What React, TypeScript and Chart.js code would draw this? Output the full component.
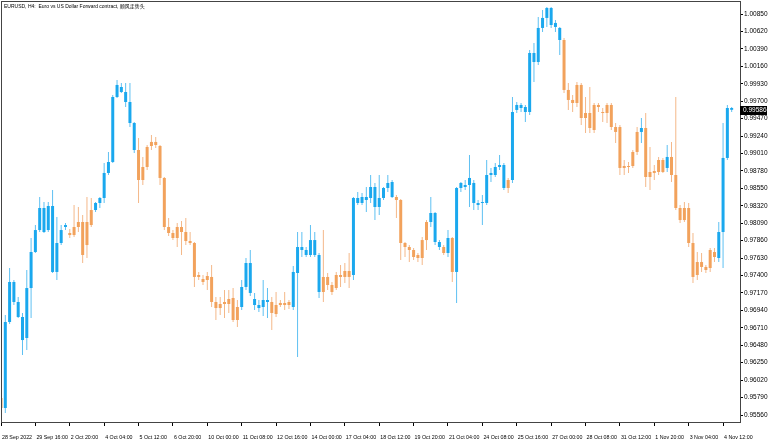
import { useEffect, useRef } from 'react';
import { Chart, registerables } from 'chart.js';

Chart.register(...registerables);

const chartTitle = 'EURUSD, H4:  Euro vs US Dollar Forward contract, 顺风走势头';

const opens = [
  0.95784, 0.95652, 0.96787, 0.97315, 0.97051, 0.96853, 0.96576, 0.97235, 0.97710, 0.98000,
  0.98291, 0.98000, 0.98317, 0.97447, 0.97829, 0.98040, 0.97961, 0.97934, 0.98040, 0.98106,
  0.97802, 0.98066, 0.98264, 0.98357, 0.98423, 0.98753, 0.98898, 0.99755, 0.99887, 0.99821,
  0.99689, 0.99412, 0.99056, 0.98660, 0.98832, 0.99109, 0.99162, 0.99109, 0.98687, 0.98040,
  0.97961, 0.97895, 0.98040, 0.97974, 0.97855, 0.97829, 0.97381, 0.97354, 0.97341, 0.97381,
  0.97051, 0.96971, 0.97024, 0.97024, 0.97104, 0.96813, 0.96985, 0.97249, 0.97565, 0.97090,
  0.97011, 0.96985, 0.97077, 0.97051, 0.96892, 0.97011, 0.97038, 0.97011, 0.96985, 0.97433,
  0.97776, 0.97737, 0.97671, 0.97868, 0.97671, 0.97183, 0.97381, 0.97275, 0.97235, 0.97407,
  0.97381, 0.97460, 0.97407, 0.98423, 0.98357, 0.98436, 0.98423, 0.98568, 0.98304, 0.98423,
  0.98555, 0.98634, 0.98436, 0.98396, 0.97829, 0.97776, 0.97737, 0.97671, 0.97631, 0.97868,
  0.98106, 0.98225, 0.97842, 0.97776, 0.97697, 0.97895, 0.97447, 0.98555, 0.98594, 0.98594,
  0.98621, 0.98357, 0.98357, 0.98357, 0.98726, 0.98726, 0.98832, 0.98858, 0.98555, 0.98660,
  0.99584, 0.99650, 0.99623, 0.99557, 1.00336, 1.00217, 1.00666, 1.00798, 1.00929, 1.00732,
  1.00666, 1.00507, 0.99848, 0.99716, 0.99676, 0.99914, 0.99478, 0.99544, 0.99320, 0.99650,
  0.99557, 0.99544, 0.99650, 0.99359, 0.99359, 0.98819, 0.98845, 0.98845, 0.99030, 0.99294,
  0.99346, 0.98700, 0.98779, 0.98766, 0.98924, 0.98819, 0.98964, 0.98726, 0.98291, 0.98132,
  0.98291, 0.97829, 0.97407, 0.97578, 0.97513, 0.97499, 0.97710, 0.97631, 0.97974, 0.98951,
  0.99610,
];

const highs = [
  0.95810, 0.96879, 0.97499, 0.97341, 0.97117, 0.96906, 0.97473, 0.97895, 0.98066, 0.98436,
  0.98370, 0.98370, 0.98528, 0.98172, 0.98066, 0.98093, 0.98013, 0.98330, 0.98304, 0.98198,
  0.98436, 0.98423, 0.98370, 0.98436, 0.98885, 0.99030, 0.99782, 0.99980, 0.99940, 0.99940,
  0.99940, 0.99425, 0.99214, 0.98964, 0.99122, 0.99254, 0.99228, 0.99122, 0.98700, 0.98159,
  0.98000, 0.98093, 0.98119, 0.98159, 0.97974, 0.97842, 0.97447, 0.97407, 0.97447, 0.97539,
  0.97117, 0.97117, 0.97209, 0.97209, 0.97235, 0.97077, 0.97341, 0.97631, 0.97737, 0.97170,
  0.97077, 0.97341, 0.97235, 0.97117, 0.97183, 0.97077, 0.97183, 0.97077, 0.97526, 0.97974,
  0.97974, 0.97776, 0.98066, 0.97974, 0.97697, 0.98000, 0.97433, 0.97315, 0.97447, 0.97539,
  0.97565, 0.97697, 0.98436, 0.98502, 0.98489, 0.98568, 0.98726, 0.98621, 0.98726, 0.98568,
  0.98726, 0.98660, 0.98462, 0.98410, 0.97842, 0.97802, 0.97763, 0.97697, 0.97908, 0.98132,
  0.98436, 0.98238, 0.97868, 0.97802, 0.98000, 0.97908, 0.98568, 0.98634, 0.98660, 0.98990,
  0.98660, 0.98396, 0.98462, 0.98924, 0.98819, 0.98885, 0.98990, 0.98885, 0.98687, 0.99755,
  0.99689, 0.99676, 0.99650, 1.00375, 1.00468, 1.00811, 1.00903, 1.00943, 1.00943, 1.00771,
  1.00679, 1.00534, 0.99940, 0.99782, 0.99953, 0.99940, 0.99755, 0.99887, 0.99676, 0.99676,
  0.99610, 0.99676, 0.99676, 0.99412, 0.99386, 0.98924, 0.98898, 0.99056, 0.99359, 0.99478,
  0.99544, 0.99096, 0.98858, 0.98964, 0.98951, 0.99122, 0.99162, 0.99755, 0.98330, 0.98370,
  0.98357, 0.97961, 0.97710, 0.97697, 0.97539, 0.97763, 0.97763, 0.98106, 0.99412, 0.99650,
  0.99623,
];

const lows = [
  0.95626, 0.95586, 0.96760, 0.97011, 0.96840, 0.96351, 0.96417, 0.96840, 0.97697, 0.97974,
  0.97961, 0.97974, 0.97433, 0.97341, 0.97802, 0.98000, 0.97895, 0.97908, 0.97974, 0.97565,
  0.97631, 0.98040, 0.98238, 0.98291, 0.98357, 0.98726, 0.98885, 0.99742, 0.99808, 0.99623,
  0.99359, 0.99017, 0.98357, 0.98594, 0.98792, 0.99056, 0.99082, 0.98594, 0.98000, 0.97921,
  0.97868, 0.97776, 0.97671, 0.97802, 0.97802, 0.97249, 0.97341, 0.97275, 0.97209, 0.96985,
  0.96813, 0.96879, 0.96840, 0.96906, 0.96787, 0.96721, 0.96945, 0.97209, 0.97130, 0.96945,
  0.96919, 0.96866, 0.96840, 0.96681, 0.96853, 0.96985, 0.96945, 0.96958, 0.96945, 0.96325,
  0.97644, 0.97644, 0.97644, 0.97644, 0.97104, 0.97051, 0.97209, 0.97143, 0.97209, 0.97249,
  0.97301, 0.97235, 0.97341, 0.98330, 0.98330, 0.98238, 0.98357, 0.98132, 0.98198, 0.98396,
  0.98502, 0.98423, 0.98159, 0.97605, 0.97644, 0.97578, 0.97605, 0.97578, 0.97539, 0.97737,
  0.98040, 0.97802, 0.97737, 0.97671, 0.97644, 0.97315, 0.97038, 0.98502, 0.98528, 0.98304,
  0.98264, 0.98264, 0.98066, 0.98330, 0.98634, 0.98700, 0.98792, 0.98528, 0.98489, 0.98621,
  0.99544, 0.99557, 0.99425, 0.99518, 0.99953, 1.00177, 1.00613, 1.00679, 1.00666, 1.00613,
  1.00309, 0.99808, 0.99584, 0.99557, 0.99623, 0.99386, 0.99280, 0.99280, 0.99280, 0.99557,
  0.99425, 0.99412, 0.99320, 0.99148, 0.98726, 0.98726, 0.98753, 0.98819, 0.98990, 0.99148,
  0.98568, 0.98528, 0.98660, 0.98726, 0.98753, 0.98766, 0.98634, 0.98264, 0.98093, 0.98106,
  0.97776, 0.97301, 0.97341, 0.97447, 0.97433, 0.97447, 0.97578, 0.97578, 0.97499, 0.98924,
  0.99557,
];

const closes = [
  0.95652, 0.96787, 0.97315, 0.97051, 0.96853, 0.96549, 0.97235, 0.97710, 0.98000, 0.98291,
  0.97974, 0.98317, 0.97447, 0.97829, 0.98000, 0.98066, 0.97934, 0.98040, 0.98106, 0.97671,
  0.98106, 0.98264, 0.98357, 0.98423, 0.98753, 0.98898, 0.99755, 0.99914, 0.99821, 0.99689,
  0.99412, 0.99056, 0.98660, 0.98832, 0.99096, 0.99162, 0.99122, 0.98687, 0.98040, 0.97961,
  0.97895, 0.98040, 0.97974, 0.97855, 0.97829, 0.97381, 0.97407, 0.97315, 0.97394, 0.97051,
  0.96971, 0.97024, 0.97051, 0.97090, 0.96813, 0.96985, 0.97249, 0.97565, 0.97170, 0.97011,
  0.96971, 0.97077, 0.97051, 0.96906, 0.97011, 0.97038, 0.97011, 0.97051, 0.97447, 0.97776,
  0.97737, 0.97671, 0.97868, 0.97671, 0.97183, 0.97381, 0.97275, 0.97183, 0.97407, 0.97381,
  0.97460, 0.97381, 0.98423, 0.98357, 0.98436, 0.98396, 0.98568, 0.98304, 0.98423, 0.98555,
  0.98621, 0.98436, 0.98396, 0.97829, 0.97776, 0.97737, 0.97644, 0.97631, 0.97868, 0.98106,
  0.98225, 0.97842, 0.97776, 0.97697, 0.97895, 0.97447, 0.98555, 0.98621, 0.98568, 0.98687,
  0.98357, 0.98330, 0.98370, 0.98726, 0.98753, 0.98832, 0.98858, 0.98555, 0.98660, 0.99557,
  0.99650, 0.99610, 0.99557, 1.00336, 1.00217, 1.00666, 1.00798, 1.00929, 1.00705, 1.00679,
  1.00507, 0.99848, 0.99716, 0.99676, 0.99914, 0.99478, 0.99544, 0.99346, 0.99650, 0.99623,
  0.99544, 0.99650, 0.99359, 0.99294, 0.98819, 0.98845, 0.98832, 0.99030, 0.99294, 0.99346,
  0.98700, 0.98766, 0.98753, 0.98924, 0.98766, 0.98964, 0.98726, 0.98291, 0.98132, 0.98291,
  0.97829, 0.97381, 0.97578, 0.97513, 0.97473, 0.97737, 0.97644, 0.97974, 0.98951, 0.99610,
  0.99586,
];

// 1 = up-trend colour (blue), 0 = down-trend colour (orange)
const trend = [
  0, 1, 1, 1, 1, 1, 1, 1, 1, 1, 1, 1, 1, 1, 1, 1, 0, 0, 0, 0,
  0, 0, 1, 1, 1, 1, 1, 1, 1, 1, 1, 1, 0, 0, 0, 0, 0, 0, 0, 0,
  0, 0, 0, 0, 0, 0, 0, 0, 0, 0, 0, 0, 0, 0, 0, 0, 1, 1, 1, 1,
  1, 1, 1, 0, 0, 0, 0, 0, 1, 1, 1, 1, 1, 1, 1, 0, 0, 0, 0, 0,
  0, 0, 1, 1, 1, 1, 1, 1, 1, 1, 1, 1, 0, 0, 0, 0, 0, 0, 0, 0,
  1, 1, 1, 0, 1, 0, 1, 1, 1, 1, 1, 1, 1, 1, 1, 1, 1, 1, 0, 1,
  1, 1, 1, 1, 1, 1, 1, 1, 1, 1, 1, 0, 0, 0, 0, 0, 0, 0, 0, 0,
  0, 0, 0, 0, 0, 0, 0, 0, 0, 1, 0, 0, 0, 0, 0, 1, 0, 0, 0, 0,
  0, 0, 0, 0, 0, 0, 0, 1, 1, 1, 1,
];

const xTickLabels = [
  '28 Sep 2022', '29 Sep 16:00', '2 Oct 20:00', '4 Oct 04:00', '5 Oct 12:00', '6 Oct 20:00',
  '10 Oct 00:00', '11 Oct 08:00', '12 Oct 16:00', '14 Oct 00:00', '17 Oct 04:00', '18 Oct 12:00',
  '19 Oct 20:00', '21 Oct 04:00', '24 Oct 08:00', '25 Oct 16:00', '27 Oct 00:00', '28 Oct 08:00',
  '31 Oct 12:00', '1 Nov 20:00', '3 Nov 04:00', '4 Nov 12:00',
];
const barsPerLabel = 8;

const yTickValues = [
  0.95560, 0.95790, 0.96020, 0.96250, 0.96480, 0.96710, 0.96940, 0.97170, 0.97400, 0.97630,
  0.97860, 0.98090, 0.98320, 0.98550, 0.98780, 0.99010, 0.99240, 0.99470, 0.99700, 0.99930,
  1.00160, 1.00390, 1.00620, 1.00850,
];

const BLUE = '#1AA8EE';
const ORANGE = '#F2A25C';
const BLUE_WICK = '#5EC0F2';
const ORANGE_WICK = '#F4B889';
const FONT = '"Liberation Sans", Arial, "Noto Sans CJK SC", sans-serif';

const decor = {
  id: 'decor',
  beforeDraw(chart: any) {
    const { ctx, width, height } = chart;
    ctx.save();
    ctx.fillStyle = '#ffffff';
    ctx.fillRect(0, 0, width, height);
    ctx.restore();
  },
  afterDraw(chart: any) {
    const { ctx, chartArea: a } = chart;
    ctx.save();
    ctx.strokeStyle = '#444444';
    ctx.lineWidth = 1;
    ctx.strokeRect(Math.round(a.left) + 0.5, Math.round(a.top) + 0.5, Math.round(a.right - a.left), Math.round(a.bottom - a.top));
    ctx.fillStyle = '#000000';
    ctx.font = `5px ${FONT}`;
    ctx.textBaseline = 'top';
    ctx.textAlign = 'left';
    ctx.fillText(chartTitle, 4, 4);
    const last = closes[closes.length - 1];
    const y = chart.scales.y.getPixelForValue(last);
    ctx.fillStyle = '#000000';
    ctx.fillRect(Math.round(a.right), Math.round(y) - 4, chart.width - Math.round(a.right) - 1, 9);
    ctx.fillStyle = '#ffffff';
    ctx.font = `6.5px ${FONT}`;
    ctx.textBaseline = 'middle';
    ctx.fillText(last.toFixed(5), Math.round(a.right) + 3, Math.round(y) + 0.5);
    ctx.restore();
  },
};

export default function App() {
  const ref = useRef<HTMLCanvasElement>(null);
  useEffect(() => {
    const canvas = ref.current;
    if (!canvas) return;
    const idx = opens.map((_, i) => i);
    const chart = new Chart(canvas, {
      type: 'bar',
      data: {
        datasets: [
          {
            label: 'body',
            data: idx.map((i) => ({ x: i, y: [opens[i], closes[i]] })),
            backgroundColor: (c: any) => (trend[c.dataIndex] ? BLUE : ORANGE),
            barThickness: 3,
            grouped: false,
            minBarLength: 1,
            borderWidth: 0,
            inflateAmount: 0,
            order: 0,
          } as any,
          {
            label: 'wick',
            data: idx.map((i) => ({ x: i, y: [lows[i], highs[i]] })),
            backgroundColor: (c: any) => (trend[c.dataIndex] ? BLUE_WICK : ORANGE_WICK),
            barThickness: 1,
            grouped: false,
            borderWidth: 0,
            inflateAmount: 0,
            order: 1,
          } as any,
        ],
      },
      options: {
        responsive: false,
        animation: false,
        devicePixelRatio: 1,
        layout: { padding: { left: 1, top: 1, right: 0, bottom: 0 } },
        plugins: {
          legend: { display: false },
          tooltip: { enabled: false },
          title: { display: false },
        },
        scales: {
          x: {
            type: 'linear',
            position: 'bottom',
            min: 0,
            max: 171.94,
            offset: false,
            grid: { offset: false, drawOnChartArea: false, drawTicks: true, tickLength: 4, color: '#000000' },
            border: { display: false },
            ticks: {
              autoSkip: false,
              maxRotation: 0,
              minRotation: 0,
              align: 'start',
              labelOffset: 1,
              padding: 8,
              color: '#000000',
              font: { family: FONT, size: 5.3 },
              callback: (_v: any, i: number) => xTickLabels[i] ?? '',
            },
            afterBuildTicks: (s: any) => {
              s.ticks = xTickLabels.map((_, j) => ({ value: j * barsPerLabel }));
            },
            afterFit: (s: any) => {
              s.height = 22;
              s.paddingLeft = 0;
              s.paddingRight = 0;
            },
          } as any,
          y: {
            type: 'linear',
            position: 'right',
            min: 0.954677,
            max: 1.010215,
            grid: { drawOnChartArea: false, drawTicks: true, tickLength: 3, color: '#000000' },
            border: { display: false },
            ticks: {
              padding: 1,
              color: '#000000',
              font: { family: FONT, size: 6.5 },
              callback: (v: any) => Number(v).toFixed(5),
            },
            afterBuildTicks: (s: any) => {
              s.ticks = yTickValues.map((v) => ({ value: v }));
            },
            afterFit: (s: any) => {
              s.width = 28;
              s.paddingTop = 0;
              s.paddingBottom = 0;
            },
          } as any,
        },
      },
      plugins: [decor],
    });
    return () => chart.destroy();
  }, []);
  return (
    <div style={{ position: 'fixed', left: 0, top: 0, width: 768, height: 444, background: '#ffffff' }}>
      <canvas ref={ref} width={768} height={444} style={{ display: 'block' }} />
    </div>
  );
}
